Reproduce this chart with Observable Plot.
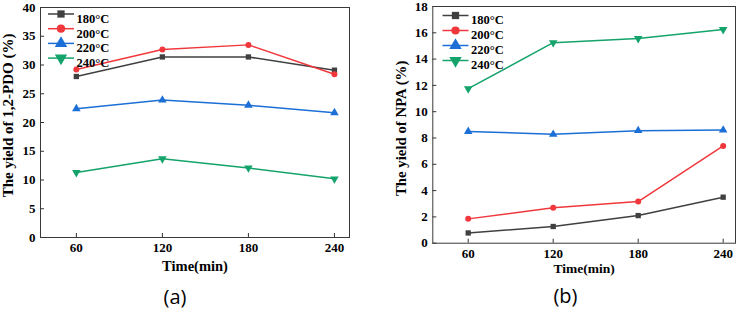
<!DOCTYPE html>
<html>
<head>
<meta charset="utf-8">
<script src="https://cdn.jsdelivr.net/npm/d3@7"></script>
<script src="https://cdn.jsdelivr.net/npm/@observablehq/plot@0.6"></script>
<style>
  html, body { margin: 0; padding: 0; background: #fff; }
  #wrap { position: relative; width: 738px; height: 317px; overflow: hidden; }
  #wrap > svg { position: absolute; top: 0; }
</style>
</head>
<body>
<div id="wrap"></div>
<script>
// ---- data ----
const times = [60, 120, 180, 240];
const temps = ["180°C", "200°C", "220°C", "240°C"];
const colors = ["#404040", "#f0383c", "#1b6fd6", "#14a36b"];
const symbols = ["square", "circle", "triangle", "triangle"];

// (a) yield of 1,2-PDO (%)
const pdo180 = [28.0, 31.4, 31.4, 29.1];
const pdo200 = [29.2, 32.7, 33.5, 28.4];
const pdo220 = [22.4, 23.9, 23.0, 21.7];
const pdo240 = [11.3, 13.7, 12.1, 10.2];

// (b) yield of NPA (%)
const npa180 = [0.78, 1.27, 2.1, 3.5];
const npa200 = [1.85, 2.69, 3.17, 7.4];
const npa220 = [8.5, 8.28, 8.56, 8.6];
const npa240 = [11.75, 15.25, 15.56, 16.25];

const yTicksA = [0, 5, 10, 15, 20, 25, 30, 35, 40];
const yTicksB = [0, 2, 4, 6, 8, 10, 12, 14, 16, 18];

function rowsOf(series) {
  const rows = [];
  series.forEach((vals, i) => vals.forEach((v, j) => rows.push({time: times[j], value: v, temp: temps[i]})));
  return rows;
}

const lineSymbol = {
  draw(ctx) { ctx.moveTo(-13, 0); ctx.lineTo(13, 0); }
};

function makeChart(cfg) {
  const fw = cfg.width - cfg.ml - cfg.mr;
  const fh = cfg.height - cfg.mt - cfg.mb;
  const rows = rowsOf(cfg.series);
  const legend = [];
  temps.forEach((t, i) => {
    const dy = cfg.legDy + i * cfg.legSp;
    legend.push(Plot.dot([t], {x: null, y: null, frameAnchor: "top-left", dx: cfg.legDx, dy,
      symbol: lineSymbol, stroke: colors[i], strokeWidth: 1.5, r: 4}));
    legend.push(Plot.dot([t], {x: null, y: null, frameAnchor: "top-left", dx: cfg.legDx, dy,
      symbol: symbols[i], fill: colors[i], stroke: "none", r: i >= 2 ? 4.6 : 4.1, rotate: i === 3 ? 180 : 0}));
    legend.push(Plot.text([t], {x: null, y: null, frameAnchor: "top-left", dx: cfg.legDx + 15.5, dy,
      text: d => d, textAnchor: "start", fontSize: 12.5, fontWeight: "bold", fill: "black"}));
  });
  return Plot.plot({
    width: cfg.width,
    height: cfg.height,
    marginLeft: cfg.ml, marginRight: cfg.mr, marginTop: cfg.mt, marginBottom: cfg.mb,
    style: {fontFamily: "'Liberation Serif', 'Times New Roman', serif", fontSize: "13px", fontWeight: "bold", color: "black", background: "transparent", overflow: "visible"},
    x: {domain: cfg.xDomain, axis: null},
    y: {domain: cfg.yDomain, axis: null},
    color: {domain: temps, range: colors},
    symbol: {domain: temps, range: symbols},
    marks: [
      Plot.tickX(times, {x: d => d, insetTop: fh - 4, stroke: "#333", strokeWidth: 1}),
      Plot.tickY(cfg.yTicks, {y: d => d, insetRight: fw - 4, stroke: "#333", strokeWidth: 1}),
      Plot.axisX({ticks: times, tickSize: 0, tickPadding: cfg.xPad, label: null, fill: "black"}),
      Plot.axisY({ticks: cfg.yTicks, tickSize: 0, tickPadding: 5, label: null, fill: "black"}),
      Plot.line(rows, {x: "time", y: "value", z: "temp", stroke: "temp", strokeWidth: 1.5}),
      Plot.dot(rows, {x: "time", y: "value", fill: "temp", symbol: "temp", stroke: "none",
        r: d => (d.temp === temps[2] || d.temp === temps[3]) ? 4.6 : 4.1,
        rotate: d => d.temp === temps[3] ? 180 : 0}),
      ...legend,
      Plot.frame({stroke: "#3a3a3a", strokeWidth: 1}),
      Plot.text([cfg.xTitle], {x: null, y: null, frameAnchor: "bottom", dy: cfg.xTitleDy, text: d => d,
        fontSize: cfg.xTitleSize, fontWeight: "bold", fill: "black"}),
      Plot.text([cfg.yTitle], {x: null, y: null, frameAnchor: "left", textAnchor: "middle", lineAnchor: "middle",
        dx: cfg.yTitleDx, dy: cfg.yTitleDy, rotate: -90,
        text: d => d, fontSize: cfg.yTitleSize, fontWeight: "bold", fill: "black"}),
      Plot.text([cfg.tag], {x: null, y: null, frameAnchor: "bottom", dx: cfg.tagDx, dy: cfg.tagDy, text: d => d,
        fontSize: 20, fontWeight: "normal", fontFamily: "'Open Sans', 'DejaVu Sans', sans-serif", fill: "black"})
    ]
  });
}

const wrap = document.getElementById("wrap");

const a = makeChart({
  width: 370, height: 317, ml: 40, mr: 21, mt: 7, mb: 80,
  xDomain: [35, 250.5], yDomain: [0, 40], yTicks: yTicksA,
  series: [pdo180, pdo200, pdo220, pdo240],
  xPad: 5, legDx: 20.5, legDy: 6.5, legSp: 14.7,
  xTitle: "Time(min)", xTitleSize: 14.5, xTitleDy: 33,
  yTitle: "The yield of 1,2-PDO (%)", yTitleSize: 15, yTitleDx: -32.5, yTitleDy: -7,
  tag: "(a)", tagDx: -20, tagDy: 66
});
a.style.left = "0px";
wrap.appendChild(a);

const b = makeChart({
  width: 368, height: 317, ml: 62.3, mr: 3, mt: 6, mb: 74.3,
  xDomain: [35, 248.7], yDomain: [0, 18], yTicks: yTicksB,
  series: [npa180, npa200, npa220, npa240],
  xPad: 6, legDx: 22.7, legDy: 9, legSp: 15,
  xTitle: "Time(min)", xTitleSize: 13.5, xTitleDy: 30,
  yTitle: "The yield of NPA (%)", yTitleSize: 14.8, yTitleDx: -32, yTitleDy: 3.5,
  tag: "(b)", tagDx: -18.7, tagDy: 60
});
b.style.left = "370px";
wrap.appendChild(b);
</script>
</body>
</html>
